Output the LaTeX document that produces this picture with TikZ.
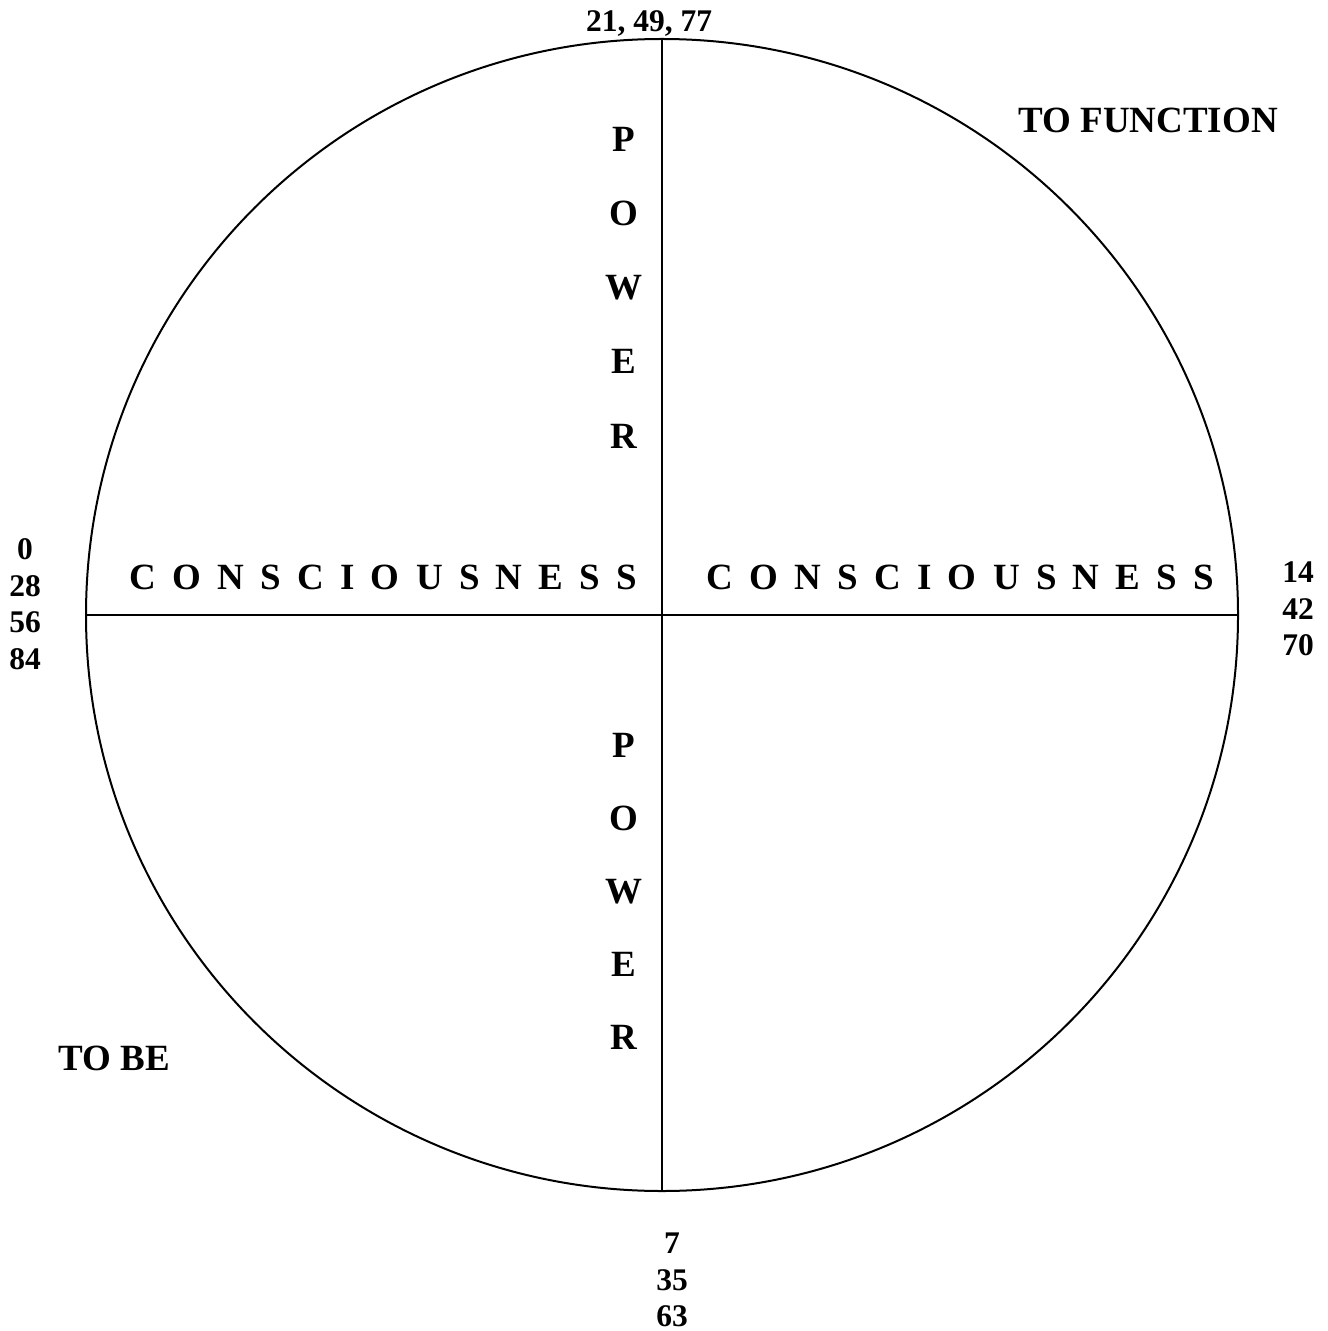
\documentclass[tikz,border=0pt]{standalone}
\usepackage{fontspec}
\setmainfont{Liberation Serif}
\usetikzlibrary{positioning,shapes.geometric}
\newcommand{\spacedword}[1]{{\spaceskip=0.44em\relax #1}}
\tikzset{
  wheel/.style={circle, draw=black, line width=1pt, inner sep=0pt, outer sep=0pt, minimum size=576pt},
  axisline/.style={draw=black, line width=1pt},
  labeltext/.style={font=\bfseries\fontsize{18.5}{22}\selectfont, inner sep=0pt},
  numstack/.style={font=\bfseries\fontsize{15.75}{18.25}\selectfont, align=center, inner sep=0pt},
}

\begin{document}
\begin{tikzpicture}[x=0.5pt, y=-0.5pt]
    \useasboundingbox (0,0) rectangle (1327,1331);
    \node[wheel] (ring) at (662,615) {};
    \draw[axisline] (ring.north) -- (ring.south);
    \draw[axisline] (ring.west) -- (ring.east);

    \node[numstack, anchor=base] (topnum) at (649,32) {21, 49, 77};
    \node[numstack] (leftnum) at (25,604) {0\\28\\56\\84};
    \node[numstack] (rightnum) at (1298,609) {14\\42\\70};
    \node[numstack] (botnum) at (672,1280) {7\\35\\63};

    \node[labeltext, anchor=base west] (tofunction) at (1018,133) {TO FUNCTION};
    \node[labeltext, anchor=base west] (tobe) at (58,1070) {TO BE};

    \node[labeltext, anchor=base west] (consleft) at (129,589) {\spacedword{C O N S C I O U S N E S S}};
    \node[labeltext, anchor=base west] (consright) at (706,589) {\spacedword{C O N S C I O U S N E S S}};

    % POWER, upper and lower halves
    \foreach \ch [count=\i] in {P,O,W,E,R}
      \node[labeltext, anchor=base] (pup-\i) at (624,{152+(\i-1)*74}) {\ch};
    \foreach \ch [count=\i] in {P,O,W,E,R}
      \node[labeltext, anchor=base] (plow-\i) at (624,{757+(\i-1)*73}) {\ch};
\end{tikzpicture}
\end{document}
